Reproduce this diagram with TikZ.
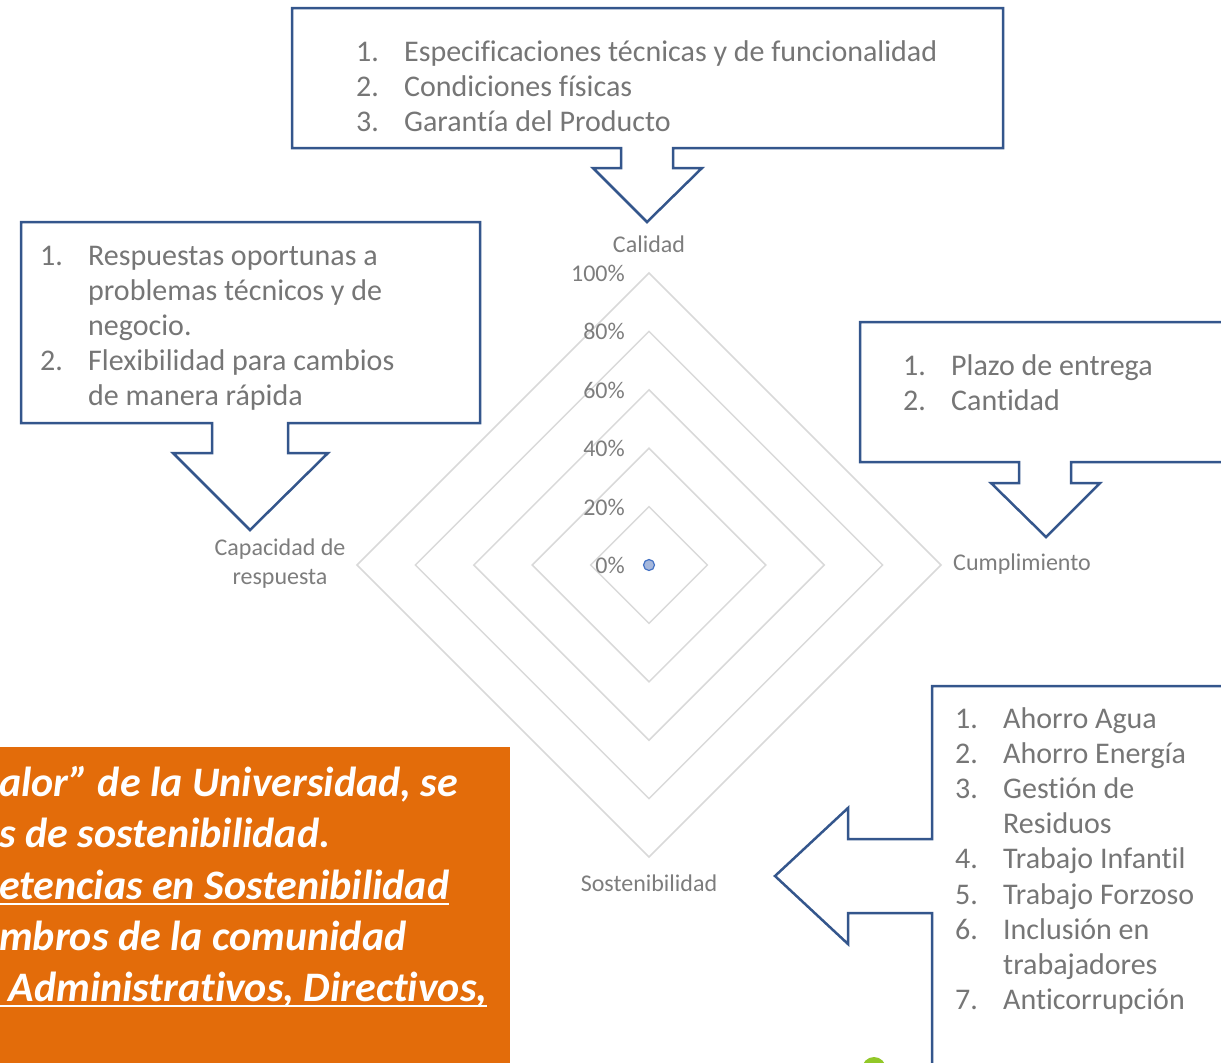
\documentclass[tikz,border=0pt]{standalone}
\usepackage{fontspec}
\setmainfont[Ligatures={NoCommon}]{Carlito}
\usepackage{tikz}
\usetikzlibrary{calc}

\definecolor{boxline}{RGB}{52,86,140}
\definecolor{txtgray}{RGB}{118,118,118}
\definecolor{lblgray}{RGB}{125,125,125}
\definecolor{gridgray}{RGB}{217,217,217}
\definecolor{dotblue}{RGB}{68,114,196}
\definecolor{dotfill}{RGB}{165,183,220}
\definecolor{uniorange}{RGB}{227,108,10}
\definecolor{limegreen}{RGB}{146,200,40}

\newcommand{\itm}[2]{\makebox[48pt][l]{#1}#2}
\newcommand{\cnt}{\hspace*{48pt}}

\begin{document}
\begin{tikzpicture}
			[x=1pt,y=-1pt,
			ring/.style={draw=gridgray,line width=1.5pt},
			lbl/.style={font=\fontsize{24}{29}\selectfont,text=lblgray,inner sep=0},
			call/.style={draw=boxline,line width=2.5pt,fill=white,line join=miter},
			lst/.style={font=\fontsize{30}{35.2}\selectfont,text=txtgray,align=left,inner sep=0,anchor=base west},
			org/.style={font=\fontsize{42}{51.3}\selectfont\bfseries\itshape,text=white,inner sep=0,anchor=base west},
			uln/.style={draw=white,line width=2pt}]

			\useasboundingbox (0,0) rectangle (1221,1063);
			\clip (0,0) rectangle (1221,1063);

			% radar grid
			\coordinate (c0) at (649,565);
			\foreach \r in {58.4,116.8,175.2,233.6,292}
				\draw[ring] ($(c0)+(0,-\r)$) -- ($(c0)+(\r,0)$) -- ($(c0)+(0,\r)$) -- ($(c0)+(-\r,0)$) -- cycle;

			\node[lbl,anchor=east] (p0) at (625,565) {0\%};
			\node[lbl,anchor=east] (p1) at (625,507) {20\%};
			\node[lbl,anchor=east] (p2) at (625,448) {40\%};
			\node[lbl,anchor=east] (p3) at (625,390) {60\%};
			\node[lbl,anchor=east] (p4) at (625,331) {80\%};
			\node[lbl,anchor=east] (p5) at (625,273) {100\%};

			\node[circle,draw=dotblue,fill=dotfill,line width=1.2pt,minimum size=11pt,inner sep=0] (v0) at (c0) {};

			\node[lbl] (a1) at (649,244) {Calidad};
			\node[lbl,anchor=west] (a2) at (953,564) {Cumplimiento};
			\node[lbl] (a3) at (649,883) {Sostenibilidad};
			\node[lbl,align=center,font=\fontsize{24}{29}\selectfont] (a4) at (280,564) {Capacidad de\\respuesta};

			% callouts
			\draw[call] (292,8) -- (1003,8) -- (1003,148) -- (673,148) -- (673,168) -- (702,168) -- (647,222)
				-- (593,168) -- (621,168) -- (621,148) -- (292,148) -- cycle;
			\draw[call] (21,222) -- (480,222) -- (480,423) -- (288,423) -- (288,453) -- (328,453) -- (250,530)
				-- (173,453) -- (212,453) -- (212,423) -- (21,423) -- cycle;
			\draw[call] (860,322) -- (1240,322) -- (1240,462) -- (1071,462) -- (1071,483) -- (1100,483) -- (1046,537)
				-- (991,483) -- (1019,483) -- (1019,462) -- (860,462) -- cycle;
			\draw[call] (1240,686) -- (932,686) -- (932,839) -- (848,839) -- (848,808) -- (775,876) -- (848,944)
				-- (848,913) -- (932,913) -- (932,1080) -- (1240,1080);

			% lists (base = last line)
			\node[lst] (b1) at (356,131.4) {\itm{1.}{Especificaciones técnicas y de funcionalidad}\\
				\itm{2.}{Condiciones físicas}\\ \itm{3.}{Garantía del Producto}};
			\node[lst] (b2) at (40,405.8) {\itm{1.}{Respuestas oportunas a}\\ \cnt problemas técnicos y de\\
				\cnt negocio.\\ \itm{2.}{Flexibilidad para cambios}\\ \cnt de manera rápida};
			\node[lst] (b3) at (903,410.2) {\itm{1.}{Plazo de entrega}\\ \itm{2.}{Cantidad}};
			\node[lst] (b4) at (955,1009.6) {\itm{1.}{Ahorro Agua}\\ \itm{2.}{Ahorro Energía}\\ \itm{3.}{Gestión de}\\
				\cnt Residuos\\ \itm{4.}{Trabajo Infantil}\\ \itm{5.}{Trabajo Forzoso}\\ \itm{6.}{Inclusión en}\\
				\cnt trabajadores\\ \itm{7.}{Anticorrupción}};

			% orange note
			\fill[uniorange] (-10,747) rectangle (510,1080);
			\node[org] (o1) at (-1,796) {alor” de la Universidad, se};
			\node[org] (o2) at (-1,847) {s de sostenibilidad.};
			\node[org] (o3) at (-1,899) {etencias en Sostenibilidad};
			\node[org] (o4) at (-1,950) {mbros de la comunidad};
			\node[org] (o5) at (-1,1001) {\ Administrativos, Directivos,};
			\draw[uln] ([yshift=-5pt]o3.base west) -- ([yshift=-5pt]o3.base east);
			\draw[uln] ([yshift=-5pt]o5.base west) -- ([yshift=-5pt]o5.base east);

			\fill[limegreen] (874,1069) circle (12);

		\end{tikzpicture}
\end{document}
